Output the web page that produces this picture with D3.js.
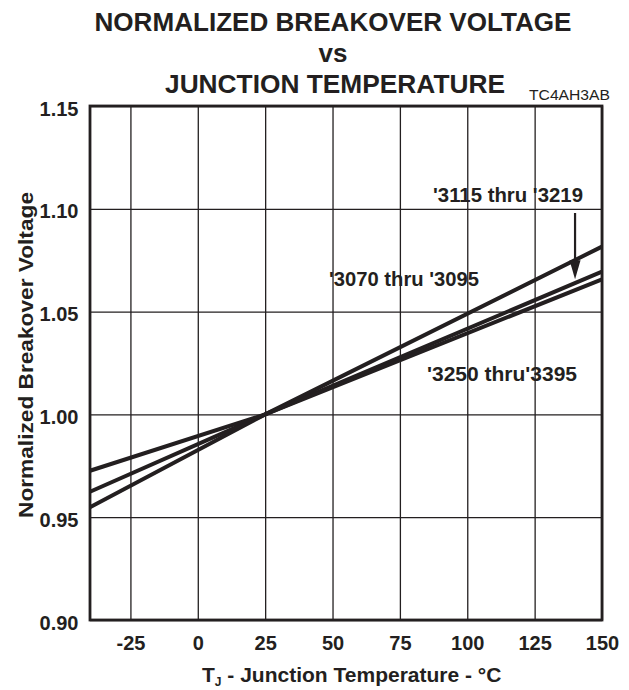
<!DOCTYPE html>
<html>
<head>
<meta charset="utf-8">
<script src="https://cdn.jsdelivr.net/npm/d3@7"></script>
<style>
  html, body { margin: 0; padding: 0; background: #fff; }
  svg { display: block; font-family: "Liberation Sans", Arial, Helvetica, sans-serif; }
</style>
</head>
<body>
<svg id="chart" width="629" height="690"></svg>
<script>
// ---- data ----
const xTicks = [-25, 0, 25, 50, 75, 100, 125, 150];
const yTicks = [0.90, 0.95, 1.00, 1.05, 1.10, 1.15];
const temps = [-40, 25, 150];
const series3070 = [0.9548, 1.0000, 1.0816];
const series3115 = [0.9624, 1.0000, 1.0694];
const series3250 = [0.9726, 1.0000, 1.0657];
const seriesNames = ["'3070 thru '3095", "'3115 thru '3219", "'3250 thru'3395"];
const titleLines = ["NORMALIZED BREAKOVER VOLTAGE", "vs", "JUNCTION TEMPERATURE"];
const figCode = "TC4AH3AB";
const arrowTemp = 140;

(function () {
// ---- layout ----
const svg = d3.select("#chart");
const pL = 90, pR = 602, pT = 106, pB = 620;
const ink = "#231f20";

const x = d3.scaleLinear().domain([-40, 150]).range([pL, pR]);
const y = d3.scaleLinear().domain([0.90, 1.15]).range([pB, pT]);

// grid + x axis labels
const xAxis = d3.axisBottom(x).tickValues(xTicks).tickSize(-(pB - pT)).tickPadding(16).tickFormat(d => String(d));
const gx = svg.append("g").attr("transform", `translate(0,${pB})`).call(xAxis);
gx.select(".domain").remove();
gx.selectAll("line").attr("stroke", ink).attr("stroke-width", 1.3);
gx.selectAll("text").attr("fill", ink).attr("font-size", 20).attr("font-weight", "bold");

const yAxis = d3.axisLeft(y).tickValues(yTicks).tickSize(-(pR - pL)).tickPadding(11.5).tickFormat(d => d.toFixed(2));
const gy = svg.append("g").attr("transform", `translate(${pL},0)`).call(yAxis);
gy.select(".domain").remove();
gy.selectAll("line").attr("stroke", ink).attr("stroke-width", 1.3);
gy.selectAll("text").attr("fill", ink).attr("font-size", 20).attr("font-weight", "bold").attr("dy", "0.45em");

// frame
svg.append("rect")
  .attr("x", pL).attr("y", pT)
  .attr("width", pR - pL).attr("height", pB - pT)
  .attr("fill", "none").attr("stroke", ink).attr("stroke-width", 2.8);

// curves
const line = d3.line().x((d, i) => x(temps[i])).y(d => y(d));
[series3070, series3115, series3250].forEach(s => {
  svg.append("path")
    .attr("d", line(s))
    .attr("fill", "none")
    .attr("stroke", ink)
    .attr("stroke-width", 4)
    .attr("stroke-linejoin", "round");
});

// series labels
const labelStyle = sel => sel.attr("fill", ink).attr("font-size", 20).attr("font-weight", "bold")
  .attr("textLength", 150).attr("lengthAdjust", "spacingAndGlyphs");
svg.append("text").attr("x", 329).attr("y", 286).text(seriesNames[0]).call(labelStyle);
svg.append("text").attr("x", 433).attr("y", 202).text(seriesNames[1]).call(labelStyle);
svg.append("text").attr("x", 427).attr("y", 381).text(seriesNames[2]).call(labelStyle);

// arrow to the '3115 curve
const interp = d3.scaleLinear().domain(temps).range(series3115);
const ax = x(arrowTemp);
const tipY = y(interp(arrowTemp)) - 4;
svg.append("line").attr("x1", ax).attr("x2", ax).attr("y1", 213).attr("y2", tipY - 14)
  .attr("stroke", ink).attr("stroke-width", 2.2);
svg.append("path")
  .attr("d", `M${ax - 5.5},${tipY - 19} L${ax + 5.5},${tipY - 19} L${ax},${tipY} Z`)
  .attr("fill", ink);

// titles
const cx = 333;
svg.append("text").attr("x", cx).attr("y", 30.7).attr("text-anchor", "middle")
  .attr("font-size", 26).attr("font-weight", "bold").attr("fill", ink)
  .attr("textLength", 477).attr("lengthAdjust", "spacingAndGlyphs").text(titleLines[0]);
svg.append("text").attr("x", cx).attr("y", 62).attr("text-anchor", "middle")
  .attr("font-size", 26).attr("font-weight", "bold").attr("fill", ink).text(titleLines[1]);
svg.append("text").attr("x", cx + 2).attr("y", 93.3).attr("text-anchor", "middle")
  .attr("font-size", 26).attr("font-weight", "bold").attr("fill", ink)
  .attr("textLength", 340).attr("lengthAdjust", "spacingAndGlyphs").text(titleLines[2]);
svg.append("text").attr("x", 529).attr("y", 100).attr("font-size", 15.5).attr("fill", ink)
  .attr("textLength", 81).attr("lengthAdjust", "spacingAndGlyphs").text(figCode);

// x axis title
const xt = svg.append("text").attr("x", 202).attr("y", 682).attr("font-size", 21)
  .attr("font-weight", "bold").attr("fill", ink);
xt.append("tspan").text("T");
xt.append("tspan").attr("font-size", 12).attr("dy", 4).text("J");
xt.append("tspan").attr("dy", -4).text(" - Junction Temperature - °C");

// y axis title
svg.append("text")
  .attr("transform", "translate(33,355) rotate(-90)")
  .attr("text-anchor", "middle")
  .attr("font-size", 21).attr("font-weight", "bold").attr("fill", ink)
  .attr("textLength", 326).attr("lengthAdjust", "spacingAndGlyphs")
  .text("Normalized Breakover Voltage");
})();
</script>
</body>
</html>
